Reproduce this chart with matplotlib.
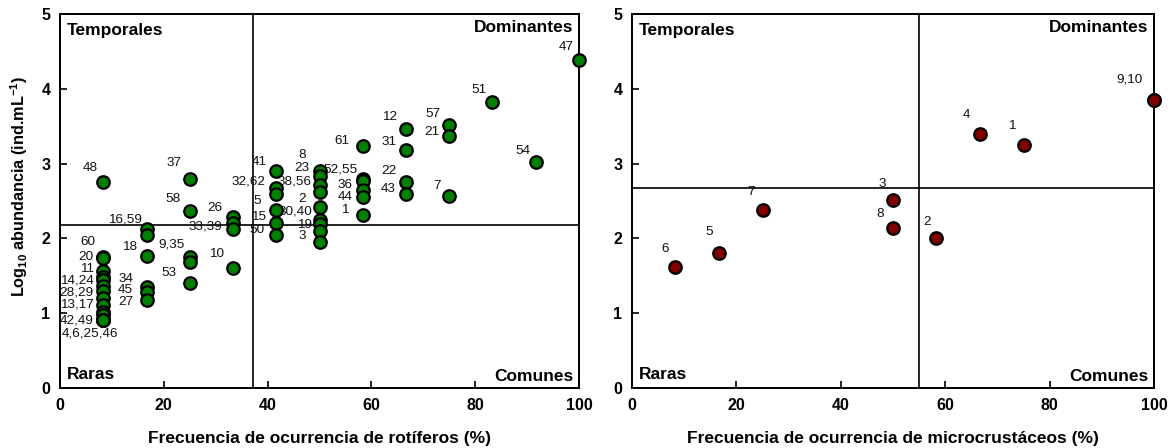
import matplotlib
matplotlib.use("Agg")
import matplotlib.pyplot as plt
import numpy as np

plt.rcParams['font.family'] = ['Liberation Sans', 'DejaVu Sans']
plt.rcParams['mathtext.fontset'] = 'custom'
plt.rcParams['mathtext.rm'] = 'Liberation Sans:bold'
plt.rcParams['mathtext.bf'] = 'Liberation Sans:bold'
plt.rcParams['mathtext.default'] = 'bf'

# Rotiferos: numero de especie, frecuencia de ocurrencia (%), log10 abundancia
rot_species = [48, 60, 20, 11, 14, 24, 28, 29, 13, 17, 42, 49, 4, 6, 25, 46,
               16, 59, 18, 34, 45, 27,
               37, 58, 9, 35, 53,
               26, 33, 39, 10,
               41, 32, 62, 5, 15, 50,
               8, 23, 38, 56, 2, 30, 40, 19, 3,
               61, 52, 55, 36, 44, 1,
               12, 31, 22, 43,
               57, 21, 7,
               51, 54, 47]
rot_freq = [8.33] * 16 + [16.67] * 6 + [25.0] * 5 + [33.33] * 4 + [41.67] * 6 \
    + [50.0] * 9 + [58.33] * 6 + [66.67] * 4 + [75.0] * 3 + [83.33, 91.67, 100.0]
rot_log = [2.75, 1.75, 1.74, 1.57, 1.49, 1.44, 1.36, 1.30, 1.20, 1.11, 1.02, 0.97, 0.91, 0.91, 0.91, 0.91,
           2.12, 2.05, 1.765, 1.35, 1.28, 1.18,
           2.79, 2.36, 1.75, 1.69, 1.41,
           2.28, 2.20, 2.13, 1.61,
           2.90, 2.67, 2.60, 2.38, 2.20, 2.04,
           2.90, 2.84, 2.72, 2.62, 2.42, 2.24, 2.19, 2.10, 1.95,
           3.23, 2.80, 2.77, 2.65, 2.55, 2.31,
           3.46, 3.18, 2.76, 2.59,
           3.52, 3.37, 2.57,
           3.82, 3.02, 4.39]

# Microcrustaceos
mic_species = [1, 2, 3, 4, 5, 6, 7, 8, 9, 10]
mic_freq = [75.0, 58.33, 50.0, 66.67, 16.67, 8.33, 25.0, 50.0, 100.0, 100.0]
mic_log = [3.25, 2.00, 2.51, 3.39, 1.81, 1.62, 2.38, 2.14, 3.85, 3.85]

# etiquetas: texto, especie de referencia, desplazamiento en pixeles (x, y)
rot_labels = [
    ("48", 48, -12.6, 14), ("60", 60, -15, 15.4), ("20", 20, -17.3, 0.5),
    ("11", 11, -16, 1.3), ("14,24", 24, -26.6, -0.4), ("28,29", 29, -26.6, -1.9),
    ("13,17", 17, -26.6, 0), ("42,49", 49, -26.6, -4.6), ("4,6,25,46", 4, -13.3, -13.4),
    ("16,59", 16, -21.5, 10), ("18", 18, -16.5, 9.3), ("34", 34, -20.8, 7.7),
    ("45", 45, -20.8, 2.3), ("27", 27, -20.8, -2),
    ("37", 37, -16, 16.5), ("58", 58, -17, 12.5), ("9,35", 9, -18, 13), ("53", 53, -20.4, 9.8),
    ("26", 26, -18, 9.2), ("33,39", 33, -28, -2.6), ("10", 10, -16.3, 13.6),
    ("41", 41, -17, 9.4), ("32,62", 32, -28, 6.6), ("5", 5, -19, 9),
    ("15", 15, -18, 6.7), ("50", 50, -19.6, 5.4),
    ("8", 8, -17.8, 16), ("23", 23, -17.8, 7.3), ("38,56", 38, -24.5, 3.5),
    ("2", 2, -17.8, 7.7), ("30,40", 30, -24.5, 8.7), ("19", 19, -14.5, 5.9), ("3", 3, -16.8, 6.4),
    ("61", 61, -21, 5.7), ("52,55", 52, -22, 9.3), ("36", 36, -17.7, 4.8),
    ("44", 44, -17.7, 0), ("1", 1, -17.7, 5.2),
    ("12", 12, -16.7, 11.9), ("31", 31, -16.7, 8.4), ("22", 22, -16.7, 10.9), ("43", 43, -17.7, 5.3),
    ("57", 57, -16, 10.7), ("21", 21, -17.6, 4.2), ("7", 7, -12.6, 9.8),
    ("51", 51, -13.2, 12.3), ("54", 54, -12.4, 11.4), ("47", 47, -12.3, 12.3),
]
mic_labels = [
    ("6", 6, -10.2, 18), ("5", 5, -10.2, 21), ("7", 7, -11, 18), ("3", 3, -11, 16.7),
    ("8", 8, -12.8, 13.7), ("2", 2, -9.1, 16.3), ("4", 4, -13.5, 19.3),
    ("1", 1, -11.3, 19.3), ("9,10", 9, -24.5, 21),
]


def quadrant_plot(ax, species, freq, logab, labels, color, xlabel):
    freq = np.array(freq)
    logab = np.array(logab)
    # limites de los cuadrantes: promedios de frecuencia y abundancia
    ax.axvline(freq.mean(), color='black', lw=1.2, zorder=1)
    ax.axhline(logab.mean(), color='black', lw=1.2, zorder=1)
    for (txt, sp, dx, dy) in labels:
        i = species.index(sp)
        ax.annotate(txt, (freq[i], logab[i]), xytext=(dx, dy), textcoords='offset pixels',
                    ha='center', va='center', fontsize=9.7, color='#111111', zorder=2)
    ax.plot(freq, logab, 'o', ms=9, mfc=color, mec='black', mew=1.6, zorder=3, clip_on=False)
    ax.set_xlim(0, 100)
    ax.set_ylim(0, 5)
    ax.set_xticks(range(0, 101, 20))
    ax.set_yticks(range(0, 6))
    ax.tick_params(direction='in', length=5, width=1.2, labelsize=11.5, pad=7)
    for lab in ax.get_xticklabels() + ax.get_yticklabels():
        lab.set_fontweight('bold')
    for s in ax.spines.values():
        s.set_linewidth(1.4)
    ax.set_xlabel(xlabel, fontsize=12.5, fontweight='bold', labelpad=13)
    kw = dict(transform=ax.transAxes, fontsize=12.5, fontweight='bold')
    ax.text(0.013, 0.975, "Temporales", ha='left', va='top', **kw)
    ax.text(0.99, 0.985, "Dominantes", ha='right', va='top', **kw)
    ax.text(0.013, 0.015, "Raras", ha='left', va='bottom', **kw)
    ax.text(0.99, 0.012, "Comunes", ha='right', va='bottom', **kw)


fig = plt.figure(figsize=(11.72, 4.48), dpi=100)
ax1 = fig.add_axes([60 / 1172, 60 / 448, 519 / 1172, 374 / 448])
ax2 = fig.add_axes([632 / 1172, 60 / 448, 522 / 1172, 374 / 448])

quadrant_plot(ax1, rot_species, rot_freq, rot_log, rot_labels, '#008000',
              "Frecuencia de ocurrencia de rotíferos (%)")
quadrant_plot(ax2, mic_species, mic_freq, mic_log, mic_labels, '#800000',
              "Frecuencia de ocurrencia de microcrustáceos (%)")
ax1.set_ylabel(r'Log$_{10}$ abundancia (ind.mL$^{-1}$)', fontsize=11.7, fontweight='bold')
ax1.yaxis.set_label_coords(-0.057, 0.54)

fig.savefig("out.png", dpi=100)
